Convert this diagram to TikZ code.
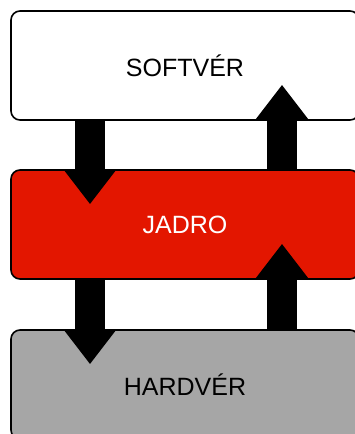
\documentclass[tikz,border=0pt]{standalone}
\usepackage{fontspec}
\setmainfont{Liberation Sans}
\usetikzlibrary{arrows.meta}
\definecolor{jadrored}{RGB}{227,22,0}
\definecolor{hwgray}{RGB}{166,166,166}
\tikzset{>=latex,
  layer/.style={draw=black, line width=1.6pt, rounded corners=9pt,
    minimum width=348pt, minimum height=109pt,
    font=\fontsize{25}{29}\selectfont},
  bigarrow/.style={line width=30pt, -{Triangle[length=35pt,width=51pt]}}}

\begin{document}
\begin{tikzpicture}[x=1pt,y=-1pt]
  \useasboundingbox (0,0) rectangle (354,434);
  \node[layer,fill=white] (sw) at (185,65.5) {SOFTVÉR};
  \node[layer,fill=jadrored,text=white] (kernel) at (185,224.5) {JADRO};
  \node[layer,fill=hwgray] (hw) at (185,384.5) {HARDVÉR};
  \foreach \A/\B in {sw/kernel,kernel/hw} {%
    \draw[bigarrow] ([xshift=-95pt]\A.south) -- ([xshift=-95pt,yshift=-35pt]\B.north);
    \draw[bigarrow] ([xshift=97pt]\B.north) -- ([xshift=97pt,yshift=36pt]\A.south);
  }
\end{tikzpicture}
\end{document}
